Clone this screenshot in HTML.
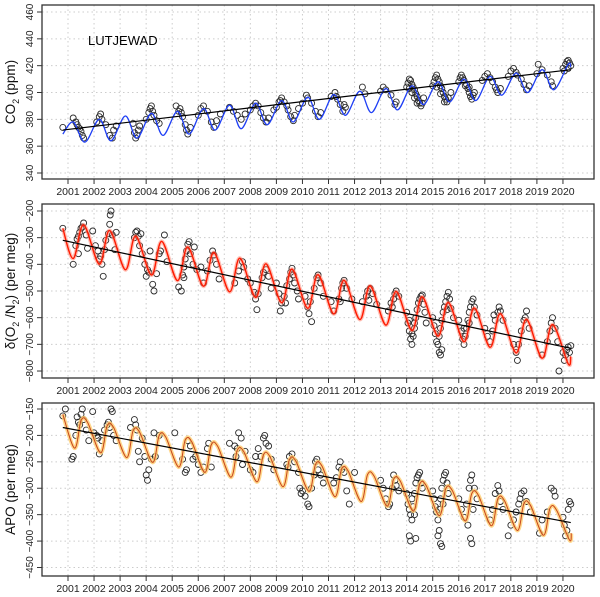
<!DOCTYPE html>
<html><head><meta charset="utf-8">
<style>
html,body{margin:0;padding:0;background:#fff;}
svg{display:block;font-family:"Liberation Sans",sans-serif;}
</style></head>
<body>
<svg id="chart" width="600" height="597" viewBox="0 0 600 597" xmlns="http://www.w3.org/2000/svg"></svg>
<script>
// ---------- data ----------
const years = [2001,2002,2003,2004,2005,2006,2007,2008,2009,2010,2011,2012,2013,2014,2015,2016,2017,2018,2019,2020];
const co2Ticks = [340,360,380,400,420,440,460];
const o2Ticks = [-800,-700,-600,-500,-400,-300,-200];
const apoTicks = [-450,-400,-350,-300,-250,-200,-150];

const co2KnotT = [2000.8,2001.2,2001.65,2002.2,2002.65,2003.2,2003.65,2004.2,2004.65,2005.2,2005.65,2006.2,2006.65,2007.2,2007.65,2008.2,2008.65,2009.2,2009.65,2010.2,2010.65,2011.2,2011.65,2012.2,2012.65,2013.2,2013.65,2014.2,2014.65,2015.2,2015.65,2016.2,2016.65,2017.2,2017.65,2018.2,2018.65,2019.2,2019.65,2020.2,2020.3];
const co2KnotV = [369,378,363,380,364,382.5,366,384.5,368,386,369,388,372,390.5,373,392,376,394,378,396.5,380,398.5,383,401,385,403,387,405,391,408,393,410,394,412,398,414.5,400,417,402,421,419];
const co2Trend = [372,417];
const co2Points = [[2000.8,374],[2001.2,381],[2001.3,378],[2001.35,376],[2001.4,374],[2001.5,371],[2001.55,368],[2001.6,366],[2001.45,373],
[2002.1,378],[2002.2,382],[2002.25,384],[2002.3,380],[2002.45,376],[2002.6,368],[2002.7,366],[2002.75,372],[2002.85,375],
[2003.55,370],[2003.6,366],[2003.65,368],[2003.7,372],[2003.75,375],[2003.5,377],
[2004.1,385],[2004.15,388],[2004.2,390],[2004.25,386],[2004.3,383],[2004.4,379],[2004.5,377],[2004.0,380],
[2005.15,390],[2005.3,388],[2005.35,385],[2005.4,382],[2005.5,376],[2005.55,372],[2005.6,369],[2005.7,374],[2005.25,386],
[2006.0,383],[2006.1,388],[2006.2,390],[2006.35,386],[2006.5,378],[2006.6,374],[2006.7,379],[2006.85,384],
[2007.2,389],[2007.35,386],[2007.5,383],[2007.65,380],[2007.8,384],
[2008.0,387],[2008.1,390],[2008.2,392],[2008.3,390],[2008.4,385],[2008.5,381],[2008.6,378],[2008.7,381],[2008.9,387],
[2009.0,389],[2009.1,393],[2009.2,396],[2009.3,393],[2009.45,387],[2009.55,382],[2009.65,379],[2009.7,383],[2009.85,388],[2009.15,394],[2009.4,390],
[2010.0,392],[2010.15,398],[2010.2,396],[2010.35,392],[2010.5,386],[2010.6,382],[2010.7,385],
[2011.1,397],[2011.25,400],[2011.3,397],[2011.45,391],[2011.55,386],[2011.65,389],[2011.6,391],[2011.35,395],
[2012.3,404],[2012.4,399],
[2013.0,401],[2013.1,404],[2013.2,402],[2013.4,398],[2013.55,391],[2013.6,393],
[2014.0,404],[2014.05,407],[2014.1,410],[2014.15,409],[2014.2,406],[2014.25,404],[2014.3,402],[2014.35,399],[2014.4,397],[2014.45,394],[2014.5,392],[2014.55,390],[2014.6,392],[2014.65,396],[2014.1,403],[2014.2,400],[2014.3,396],[2014.4,392],
[2015.0,405],[2015.05,408],[2015.1,411],[2015.15,413],[2015.2,410],[2015.25,408],[2015.3,405],[2015.35,403],[2015.4,400],[2015.45,397],[2015.5,395],[2015.55,393],[2015.6,396],[2015.15,404],[2015.3,399],[2015.45,393],[2015.7,400],
[2016.0,408],[2016.05,411],[2016.1,413],[2016.15,411],[2016.2,409],[2016.3,406],[2016.35,403],[2016.4,400],[2016.45,397],[2016.5,395],[2016.55,398],[2016.25,405],[2016.4,404],[2016.6,400],
[2016.9,409],[2017.0,412],[2017.1,414],[2017.2,411],[2017.3,408],[2017.4,404],[2017.5,400],[2017.6,403],[2017.45,402],
[2017.9,412],[2018.0,416],[2018.1,418],[2018.2,415],[2018.4,410],[2018.5,406],[2018.6,402],[2018.7,405],[2018.25,413],
[2019.05,421],[2019.2,417],[2019.4,413],[2019.55,408],[2019.6,405],[2019.0,414],
[2020.0,418],[2020.1,421],[2020.15,423],[2020.2,424],[2020.25,422],[2020.3,420],[2020.05,416],[2020.2,418]];

const o2KnotT = [2000.8,2001.2,2001.6,2002.2,2002.6,2003.2,2003.6,2004.2,2004.6,2005.2,2005.6,2006.2,2006.6,2007.2,2007.6,2008.2,2008.6,2009.2,2009.6,2010.2,2010.6,2011.2,2011.6,2012.2,2012.6,2013.2,2013.6,2014.2,2014.6,2015.2,2015.6,2016.2,2016.6,2017.2,2017.6,2018.2,2018.6,2019.2,2019.6,2020.2,2020.3];
const o2KnotV = [-265,-378,-252,-399,-273,-420,-294,-440,-314,-461,-335,-482,-356,-503,-377,-524,-398,-544,-418,-565,-439,-586,-460,-607,-481,-628,-502,-648,-522,-669,-543,-690,-564,-711,-585,-732,-606,-752,-626,-773,-745];
const o2Trend = [-310,-715];
const o2Points = [[2000.8,-265],[2001.2,-400],[2001.3,-330],[2001.35,-305],[2001.4,-295],[2001.45,-280],[2001.5,-265],[2001.55,-260],[2001.6,-245],[2001.7,-290],[2001.75,-340],[2001.4,-360],
[2001.95,-275],[2002.05,-330],[2002.15,-350],[2002.2,-380],[2002.3,-400],[2002.4,-345],[2002.45,-310],[2002.55,-285],[2002.6,-250],[2002.65,-200],[2002.62,-215],[2002.7,-290],[2002.8,-345],[2002.85,-280],[2002.35,-445],[2002.25,-370],
[2003.6,-280],[2003.55,-300],[2003.65,-275],[2003.7,-295],[2003.8,-285],[2003.75,-330],[2003.85,-360],[2003.95,-400],[2004.0,-445],[2004.05,-420],[2004.1,-430],[2004.15,-350],[2004.25,-475],[2004.3,-500],[2004.4,-435],[2004.5,-360],[2004.55,-350],[2004.7,-290],[2004.8,-390],
[2005.25,-485],[2005.35,-500],[2005.4,-440],[2005.45,-410],[2005.5,-380],[2005.55,-350],[2005.6,-325],[2005.65,-315],[2005.7,-360],[2005.8,-400],[2005.85,-335],[2005.95,-420],[2005.45,-450],
[2006.1,-410],[2006.2,-470],[2006.35,-425],[2006.45,-385],[2006.55,-350],[2006.6,-365],[2006.7,-400],[2006.8,-455],
[2007.4,-470],[2007.55,-425],[2007.7,-390],[2007.75,-410],[2007.9,-455],[2008.0,-470],[2008.15,-505],[2008.2,-530],[2008.3,-510],[2008.45,-450],[2008.5,-430],[2008.6,-420],[2008.7,-445],[2008.8,-490],[2008.25,-570],
[2009.0,-470],[2009.1,-510],[2009.2,-545],[2009.3,-520],[2009.4,-480],[2009.5,-455],[2009.55,-430],[2009.6,-415],[2009.65,-440],[2009.7,-470],[2009.8,-500],[2009.85,-530],[2009.15,-575],[2009.35,-545],
[2010.1,-520],[2010.2,-560],[2010.3,-540],[2010.45,-490],[2010.55,-450],[2010.6,-440],[2010.7,-470],[2010.8,-520],[2010.25,-585],[2010.35,-615],
[2011.1,-540],[2011.2,-575],[2011.4,-530],[2011.5,-490],[2011.55,-470],[2011.6,-460],[2011.7,-490],[2011.9,-530],[2011.45,-540],
[2012.3,-540],[2012.45,-520],[2012.5,-500],[2012.6,-490],[2012.7,-510],[2012.85,-550],[2012.55,-535],
[2013.4,-545],[2013.45,-560],[2013.5,-530],[2013.55,-510],[2013.6,-500],[2013.7,-520],[2013.3,-575],
[2014.0,-580],[2014.05,-620],[2014.1,-650],[2014.15,-680],[2014.2,-700],[2014.25,-670],[2014.3,-640],[2014.35,-600],[2014.4,-570],[2014.45,-545],[2014.5,-530],[2014.55,-520],[2014.6,-515],[2014.65,-550],[2014.7,-580],[2014.1,-610],[2014.2,-660],[2014.3,-620],[2014.75,-620],
[2015.0,-600],[2015.05,-630],[2015.1,-660],[2015.15,-690],[2015.2,-700],[2015.25,-670],[2015.3,-640],[2015.35,-610],[2015.4,-580],[2015.45,-560],[2015.5,-540],[2015.55,-520],[2015.6,-505],[2015.65,-530],[2015.7,-565],[2015.8,-600],[2015.3,-740],[2015.35,-720],[2015.25,-730],[2015.55,-570],
[2016.0,-610],[2016.1,-650],[2016.15,-680],[2016.2,-700],[2016.25,-670],[2016.3,-640],[2016.35,-610],[2016.4,-580],[2016.45,-560],[2016.5,-540],[2016.55,-530],[2016.6,-560],[2016.7,-590],[2016.2,-640],[2016.4,-620],
[2017.0,-640],[2017.1,-670],[2017.2,-690],[2017.3,-650],[2017.4,-610],[2017.5,-580],[2017.55,-560],[2017.6,-575],[2017.7,-610],[2017.35,-590],
[2018.1,-700],[2018.2,-730],[2018.3,-700],[2018.4,-650],[2018.5,-610],[2018.55,-600],[2018.6,-575],[2018.7,-640],[2018.25,-760],
[2019.2,-740],[2019.4,-690],[2019.5,-650],[2019.55,-620],[2019.6,-600],[2019.7,-640],[2019.8,-690],
[2020.0,-730],[2020.05,-760],[2020.1,-740],[2020.15,-720],[2020.2,-710],[2020.25,-730],[2020.3,-705],[2019.85,-800]];

const apoKnotT = [2000.8,2001.25,2001.5,2001.75,2002.25,2002.5,2002.75,2003.25,2003.5,2003.75,2004.25,2004.5,2004.75,2005.25,2005.5,2005.75,2006.25,2006.5,2006.75,2007.25,2007.5,2007.75,2008.25,2008.5,2008.75,2009.25,2009.5,2009.75,2010.25,2010.5,2010.75,2011.25,2011.5,2011.75,2012.25,2012.5,2012.75,2013.25,2013.5,2013.75,2014.25,2014.5,2014.75,2015.25,2015.5,2015.75,2016.25,2016.5,2016.75,2017.25,2017.5,2017.75,2018.25,2018.5,2018.75,2019.25,2019.5,2019.75,2020.25,2020.32];
const apoKnotV = [-160,-224,-172,-175,-233,-182,-185,-242,-191,-194,-251,-200,-203,-260,-209,-212,-270,-218,-221,-279,-228,-231,-288,-237,-240,-297,-246,-249,-306,-255,-258,-316,-264,-267,-325,-274,-277,-334,-283,-286,-343,-292,-295,-352,-301,-304,-362,-310,-313,-371,-320,-323,-380,-329,-332,-389,-338,-341,-398,-385];
const apoTrend = [-185,-365];
const apoPoints = [[2000.8,-163],[2000.9,-150],[2001.15,-245],[2001.2,-240],[2001.3,-200],[2001.35,-165],[2001.4,-175],[2001.45,-180],[2001.5,-160],[2001.55,-150],[2001.6,-170],[2001.7,-190],[2001.8,-210],[2001.95,-155],
[2002.0,-195],[2002.1,-200],[2002.15,-205],[2002.2,-235],[2002.3,-210],[2002.4,-190],[2002.5,-180],[2002.55,-175],[2002.6,-185],[2002.65,-150],[2002.7,-155],[2002.75,-200],[2002.85,-210],
[2003.4,-185],[2003.55,-170],[2003.6,-180],[2003.65,-190],[2003.7,-230],[2003.75,-250],[2003.85,-205],[2003.95,-240],[2004.0,-275],[2004.05,-285],[2004.1,-265],[2004.2,-245],[2004.3,-195],[2004.35,-240],[2004.5,-200],
[2005.1,-195],[2005.4,-245],[2005.5,-270],[2005.55,-265],[2005.6,-210],[2005.7,-220],[2005.8,-245],[2005.9,-240],[2006.0,-255],[2006.1,-270],[2006.2,-260],[2006.35,-225],[2006.4,-215],[2006.5,-260],
[2007.2,-215],[2007.4,-220],[2007.45,-240],[2007.5,-225],[2007.55,-195],[2007.65,-205],[2007.7,-255],[2007.8,-230],[2008.0,-265],[2008.1,-270],[2008.2,-240],[2008.3,-225],[2008.4,-240],[2008.5,-205],[2008.55,-200],[2008.6,-215],[2008.7,-220],[2008.8,-245],[2008.9,-265],
[2009.4,-255],[2009.45,-260],[2009.5,-240],[2009.6,-235],[2009.7,-250],[2009.85,-270],[2009.9,-300],[2009.95,-310],[2010.0,-305],[2010.1,-315],[2010.2,-330],[2010.25,-335],[2010.35,-300],[2010.45,-275],[2010.5,-250],[2010.55,-245],[2010.6,-265],[2010.7,-275],[2010.8,-290],
[2011.2,-290],[2011.3,-280],[2011.4,-260],[2011.45,-250],[2011.5,-265],[2011.6,-270],[2011.7,-305],[2011.8,-330],[2012.0,-270],
[2013.0,-285],[2013.1,-300],[2013.2,-320],[2013.3,-335],[2013.35,-330],[2013.45,-300],[2013.5,-275],[2013.55,-285],[2013.6,-295],[2013.7,-305],
[2014.0,-310],[2014.05,-330],[2014.1,-340],[2014.15,-350],[2014.2,-360],[2014.25,-335],[2014.3,-310],[2014.35,-290],[2014.4,-280],[2014.45,-275],[2014.5,-270],[2014.55,-290],[2014.6,-300],[2014.2,-320],[2014.3,-350],[2014.1,-390],[2014.15,-400],[2014.35,-395],
[2015.0,-305],[2015.05,-320],[2015.1,-335],[2015.15,-345],[2015.2,-360],[2015.25,-340],[2015.3,-320],[2015.35,-300],[2015.4,-285],[2015.45,-275],[2015.5,-270],[2015.55,-290],[2015.6,-310],[2015.25,-380],[2015.3,-405],[2015.35,-410],[2015.2,-390],[2015.4,-330],
[2016.0,-320],[2016.1,-340],[2016.2,-355],[2016.3,-330],[2016.4,-300],[2016.45,-285],[2016.5,-275],[2016.6,-300],[2016.7,-320],[2016.35,-370],[2016.45,-395],[2016.5,-405],[2016.55,-340],
[2017.2,-360],[2017.3,-340],[2017.4,-310],[2017.5,-295],[2017.55,-305],[2017.6,-325],[2017.7,-340],
[2017.9,-390],[2018.0,-370],[2018.1,-360],[2018.2,-345],[2018.3,-330],[2018.35,-320],[2018.4,-310],[2018.5,-305],[2018.6,-325],[2018.75,-345],
[2019.1,-385],[2019.2,-360],[2019.4,-345],[2019.55,-300],[2019.65,-305],[2019.7,-315],
[2020.0,-355],[2020.05,-370],[2020.1,-390],[2020.15,-380],[2020.2,-340],[2020.25,-325],[2020.3,-330]];

// ---------- drawing ----------
const NS = "http://www.w3.org/2000/svg";
const svg = document.getElementById('chart');
function mk(tag, attrs, parent){ const e=document.createElementNS(NS,tag); for(const k in attrs) e.setAttribute(k,attrs[k]); (parent||svg).appendChild(e); return e; }
const L=42, R=594;
const x = t => 68 + (t-2001)*26.05;

function spline(T,V,y){
  const P=T.map((t,i)=>[x(t),y(V[i])]);
  let d=`M${P[0][0].toFixed(1)},${P[0][1].toFixed(1)}`;
  for(let i=0;i<P.length-1;i++){
    const p0=P[Math.max(0,i-1)],p1=P[i],p2=P[i+1],p3=P[Math.min(P.length-1,i+2)];
    const c1=[p1[0]+(p2[0]-p0[0])/6,p1[1]+(p2[1]-p0[1])/6];
    const c2=[p2[0]-(p3[0]-p1[0])/6,p2[1]-(p3[1]-p1[1])/6];
    d+=` C${c1[0].toFixed(1)},${c1[1].toFixed(1)} ${c2[0].toFixed(1)},${c2[1].toFixed(1)} ${p2[0].toFixed(1)},${p2[1].toFixed(1)}`;
  }
  return d;
}

function panel(cfg){
  const g=mk('g',{});
  
  
  const y=cfg.y;
  cfg.ticks.forEach(v=>{
    const gl=mk('line',{x1:L,x2:R,y1:y(v),y2:y(v),stroke:'#ccc','stroke-width':1,'stroke-dasharray':'1.5,3'},g);
    
    
  });
  years.forEach(yr=>{
    const gl=mk('line',{x1:x(yr),x2:x(yr),y1:cfg.top,y2:cfg.bot,stroke:'#ccc','stroke-width':1,'stroke-dasharray':'1.5,3'},g);
    
    
  });
  cfg.points.forEach(p=>{
    const c=mk('circle',{cx:x(p[0]).toFixed(1),cy:y(p[1]).toFixed(1),r:3,fill:'none',stroke:'#2a2a2a','stroke-width':0.9},g);
    
    
  });
  const d=spline(cfg.kt,cfg.kv,y);
  if(cfg.band){
    const b=mk('path',{d,fill:'none',stroke:cfg.band,'stroke-width':4,'stroke-linejoin':'round'},g);
    
    
  }
  const cv=mk('path',{d,fill:'none',stroke:cfg.color,'stroke-width':cfg.lw,'stroke-linejoin':'round'},g);
  
  
  const tl=mk('line',{x1:x(2000.8),y1:y(cfg.trend[0]),x2:x(2020.3),y2:y(cfg.trend[1]),stroke:'#000','stroke-width':1.2},g);
  
  
  const bx=mk('rect',{x:L,y:cfg.top,width:R-L,height:cfg.bot-cfg.top,fill:'none',stroke:'#333','stroke-width':1.3},g);
  
  
  cfg.ticks.forEach(v=>{
    mk('line',{x1:L-5,x2:L,y1:y(v),y2:y(v),stroke:'#333'},g);
    const t=mk('text',{x:0,y:0,transform:`translate(${L-9},${y(v)}) rotate(-90)`,'text-anchor':'middle','font-size':10,fill:'#222'},g);
    t.textContent=String(v).replace('-','\u2212');
    
    
  });
  years.forEach(yr=>{
    mk('line',{x1:x(yr),x2:x(yr),y1:cfg.bot,y2:cfg.bot+5,stroke:'#333'},g);
    const t=mk('text',{x:x(yr),y:cfg.bot+16,'text-anchor':'middle','font-size':10.5,fill:'#222'},g);
    t.textContent=yr;
    
    
  });
  const yt=mk('text',{x:0,y:0,transform:`translate(${cfg.titleX},${(cfg.top+cfg.bot)/2}) rotate(-90)`,'text-anchor':'middle','font-size':13.5,fill:'#111'},g);
  yt.innerHTML=cfg.title;
  
  
}

panel({name:'co2',top:5,bot:179,y:v=>12+(460-v)*1.3417,ticks:co2Ticks,points:co2Points,kt:co2KnotT,kv:co2KnotV,color:'#1f3ff5',lw:1.3,trend:co2Trend,titleX:15,
  title:'CO<tspan font-size="9" dy="4">2</tspan><tspan dy="-4"> (ppm)</tspan>'});
panel({name:'o2',top:204,bot:378,y:v=>211+(-200-v)*0.2667,ticks:o2Ticks,points:o2Points,kt:o2KnotT,kv:o2KnotV,color:'#ff1a00',band:'rgba(255,130,110,0.5)',lw:1.4,trend:o2Trend,titleX:15,
  title:'δ(O<tspan font-size="9" dy="4">2</tspan><tspan dy="-4"> /N</tspan><tspan font-size="9" dy="4">2</tspan><tspan dy="-4">) (per meg)</tspan>'});
panel({name:'apo',top:403,bot:576,y:v=>409+(-150-v)*0.5283,ticks:apoTicks,points:apoPoints,kt:apoKnotT,kv:apoKnotV,color:'#c8461c',band:'rgba(255,205,110,0.8)',lw:1.0,trend:apoTrend,titleX:15,
  title:'APO (per meg)'});

const title=mk('text',{x:88,y:45,'font-size':13,fill:'#000'});
title.textContent='LUTJEWAD';


</script>
</body></html>
